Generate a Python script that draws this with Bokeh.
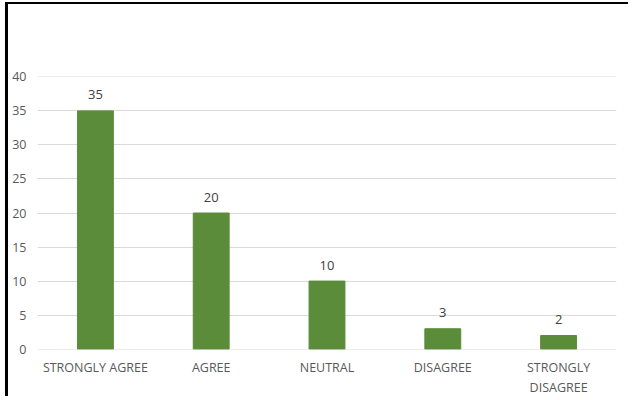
from bokeh.plotting import figure
from bokeh.models import ColumnDataSource, FactorRange, Range1d, FixedTicker, GlobalInlineStyleSheet
from bokeh.core.properties import value
from bokeh.embed import file_html
from bokeh.resources import INLINE

categories = ["STRONGLY AGREE", "AGREE", "NEUTRAL", "DISAGREE", "STRONGLY\nDISAGREE"]
counts = [35, 20, 10, 3, 2]
y_ticks = [0, 5, 10, 15, 20, 25, 30, 35, 40]

src = ColumnDataSource(data=dict(cat=categories, val=counts, lab=[str(v) for v in counts]))

p = figure(x_range=FactorRange(*categories), y_range=Range1d(-0.05, 40.05),
           width=620, height=392, output_backend="svg", toolbar_location=None,
           min_border_left=29, min_border_right=15, min_border_top=72, min_border_bottom=46)
p.styles = {"margin-left": "5px", "margin-top": "2px", "box-sizing": "content-box",
            "vertical-align": "top",
            "border-left": "3px solid black", "border-top": "2px solid black"}
p.stylesheets = [GlobalInlineStyleSheet(css="html, body { overflow: hidden; }")]
p.x_range.range_padding = 0
p.outline_line_color = None
p.background_fill_color = "white"
p.border_fill_color = "white"

p.vbar(x="cat", top="val", width=0.31, source=src, color="#5B8C3A")
p.text(x="cat", y="val", text="lab", source=src, text_align="center", text_baseline="alphabetic",
       y_offset=-16, text_font=value("Open Sans"), text_font_size="13px", text_color="#404040")

p.xgrid.grid_line_color = None
p.ygrid.grid_line_color = "#D9D9D9"
p.ygrid.ticker = FixedTicker(ticks=y_ticks)
p.yaxis.ticker = FixedTicker(ticks=y_ticks)

for ax in (p.xaxis, p.yaxis):
    ax.axis_line_color = None
    ax.major_tick_line_color = None
    ax.minor_tick_line_color = None
    ax.major_tick_out = 0
    ax.major_tick_in = 0
    ax.major_label_text_font = "Open Sans"
    ax.major_label_text_font_size = "12.5px"
    ax.major_label_text_color = "#595959"
p.yaxis.major_label_standoff = 11
p.xaxis.major_label_standoff = 9

open("out.html", "w").write(file_html(p, INLINE))
